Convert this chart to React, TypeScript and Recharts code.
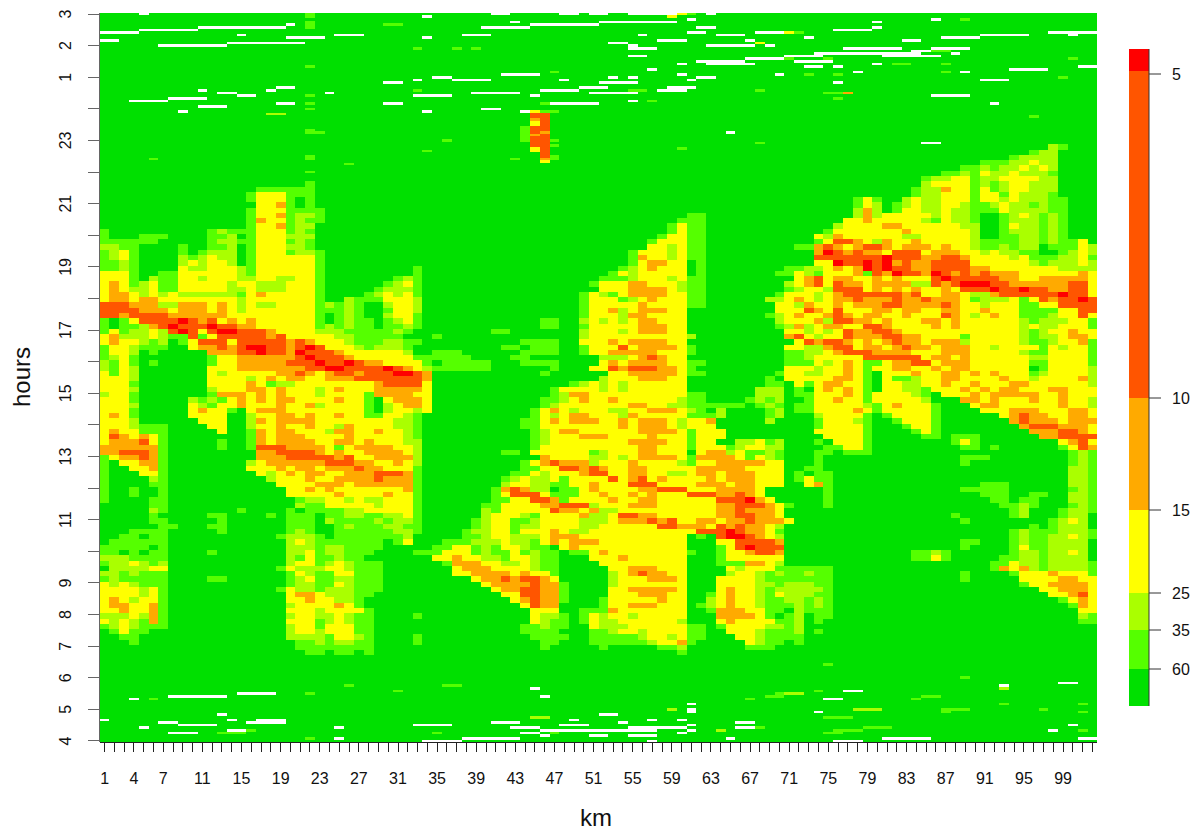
import { Bar, BarChart, XAxis, YAxis } from "recharts";

const FONT = "'Liberation Sans', Arial, sans-serif";

const LEVEL_COLORS: Record<string, string> = {
  g: "#00e000",
  m: "#55ff00",
  l: "#aaff00",
  y: "#ffff00",
  o: "#ffaa00",
  d: "#ff5500",
  r: "#ff0000",
  w: "#ffffff",
};

const KM_COUNT = 102;
const ROW_COUNT = 277;
const KM_LABELS = [1, 4, 7, 11, 15, 19, 23, 27, 31, 35, 39, 43, 47, 51, 55, 59, 63, 67, 71, 75, 79, 83, 87, 91, 95, 99];
// 5 minute rows from the top of the plot, hour ticks every 12 rows
const HOUR_TICKS = [3, 2, 1, 0, 23, 22, 21, 20, 19, 18, 17, 16, 15, 14, 13, 12, 11, 10, 9, 8, 7, 6, 5, 4];
const HOUR_SKIPPED = [0, 22, 20, 18, 16, 14, 12, 10];

// colour bar, bottom to top: thickness of each level and the label at its top
const LEGEND_LEVELS = ["g", "m", "l", "y", "o", "d", "r"];
const LEGEND_SIZES = [37, 39, 37, 83, 112, 327, 22];
const LEGEND_TICKS = [37, 76, 113, 196, 308, 632];
const LEGEND_LABELS = ["60", "35", "25", "15", "10", "5"];

// double height rows: [row / 2, "startKm:levels" ...]
const PLUME_ROWS: [number, string][] = [
  [25, "98:lm"],
  [26, "96:mll"],
  [27, "94:mllll"],
  [28, "91:mmmllyll"],
  [29, "89:mmlmllylyl"],
  [30, "87:mmlmyllylllm"],
  [31, "85:mllyymllyyyyll"],
  [32, "22:m 85:lyyyymlmlyylll"],
  [33, "17:mmmmmm 84:mlloyymymlyylll"],
  [34, "16:myyymmm 84:mllyyymyymylllm"],
  [35, "16:myyym.m 78:mym 83:lyllyyymyylylllmm"],
  [36, "17:yyom.m 78:myl 82:mlyllyylmmlyllmlmm"],
  [37, "16:myyymmmm 78:lol 82:myyllyllmmmyllllmm"],
  [38, "16:myyomllm 61:mm 78:lolyyyyylyllmggmlylmlm"],
  [39, "16:moyymlmm 60:mmm 77:yyoyyyyylmyllmggmlllmlm"],
  [40, "16:myyomll 59:mymm 76:lyyyyooyyyyyyllggmyllmlm"],
  [41, "1:m 12:mlmmmyyymlm 59:mymm 75:myyyyyyyoyyyyyylggmlllmlm"],
  [42, "1:m 5:mmm 12:mmlgmyyylll 58:myymm 74:yloyyyyyyllyyyyylggmmllmlm"],
  [43, "1:mmmmmm 12:mllmmyyymlm 57:myyymm 74:myddoyloyyoyyyyylmmmmllmlmmy"],
  [44, "1:llmm 9:m 12:mml.myyyllm 57:yylymm 72:mmodoyoddoyoooyoyylmmlmllgmmmyl"],
  [45, "1:mlym 9:m 11:mlll.myyymllm 55:myyylymm 74:ordodooydddyoooyylyllmmggmlyl"],
  [46, "1:mlym 9:lm 11:lyll.myyyyyym 55:moyylymm 74:dddddddrdddooddoyyyylymmmllym"],
  [47, "1:mmlm 9:lylyyl 16:myyyyyym 55:myooyygm 74:yyrddrdrodooddddyyyyyylmlllyl"],
  [48, "1:mmlm 9:yllyyylm 17:yyyyyym 33:m 54:mlyoyyygm 71:mmllyoyordrddooddddooyyyyyyyllll"],
  [49, "1:yyym 7:mm 9:yyyyyylm 17:yyyyyym 33:m 53:mylyyyyygm 70:mmylmyyyomdorddordododoooyyyyyyoy"],
  [50, "1:yyym 6:lmm 9:yylyyyll 17:yyllyym 31:mlm 52:mmmlyyylymm 72:yodyooyyoyoyyydrdddddooyyoooooy"],
  [51, "1:yoym 5:lymm 9:yyyyylyylllyyym 30:mlym 51:myyyooyyylmm 71:lyodydooyoooolldodrrrddooooooddy"],
  [52, "1:yoyllymm 9:yyyyyllylllyyym 29:mlllm 52:yyyooooylmm 71:mlyyldddyoyoyoyyoydddrddrddooddy"],
  [53, "1:yooylyly 9:llllllm 16:yoyyyyym 28:mlylym 50:mylmyooooyymm 70:myyylyoddddddodyyooylloddddddrddy"],
  [54, "1:yooyooyy 9:yyyyyylyyyyyyy 23:m 26:lmmmyyyl 50:myyymlyoyyymm 69:llyoylyoodooodoodoooymlllymydoddrd"],
  [55, "1:dddooo 7:ll 9:oooyoy 15:lyllyyyym 24:l 25:mlmgglyyl 50:myyyyyoyyyymm 70:yyloyyoyoooddoooodoyylyyymmyydddd"],
  [56, "1:ddddoooy 9:oooyoy 15:lyyyyyyym 24:mmlmggmyyl 50:myyolyoooyy 70:yyydoydyyyooyooyyooyyoyyymmmmyydd"],
  [57, "1:ddoddddo 9:oooooy 15:yyyyyyyym 24:gmlmgglyym 50:myyylooyyyy 69:mlyoyyodoyooyyoyyydoylyoyymmmlyydy"],
  [58, "1:mgmyddddrdodyoyoyyyyyym 24:gmlmmgmlym 46:mm 50:lylylyooyyy 70:lyyyolddooyoyyyooyoyyyyyylmlllyym"],
  [59, "1:mgmmlodrdddrddooyyyyyym 24:lmlmmgmmlm 46:mm 50:myyyyyoooyy 70:mlolyooyyddoyyyyoyoyyyyyylyllyyym"],
  [60, "1:mymllyldrdydrrdddoyyyylllmmmmmlm 41:mm 50:lyyylyoooyy 71:yylylydooddoyyyyyyyyyyyylmlyyoyy"],
  [61, "1:yolllylmmdmydddddodyyyyyllmmmmmgg 35:m 50:lyyyyyyyyyyl 71:odylyydoooddooyyyymyyyyylmllyooy"],
  [62, "1:yoyylmlgmydddydddddodoyyylmmmllmm 44:mmmm 50:yyyoyooooyy 72:ydoddoyoyodooyooolyyyyylmmlyyom"],
  [63, "1:myylmmmggyoododrrddodrdyyylmlllmg 42:mm 45:mmm 50:myyydyooooym 71:yylloddyooyodooyoooyylyyyymylyym"],
  [64, "1:myylgmgggggoooddrddordddoyyyyyylg 35:mmm 44:mmmm 50:myyoooooyyym 71:mmllyodddooooyyyoooyyyyylmmyyyym"],
  [65, "1:mlymgggggggmyyoooooodrdddoyyyyyymm 35:mmmm 43:mm 52:lllyodoyy 71:mmlyyyyyddddddyooyoyyyyyyllyyyym"],
  [66, "1:lmymgmgggggmyyooooodddrddrdooyyyym 36:mmm 39:mm 44:mmmm 52:yoyooooyy 61:mm 71:mmmylyoymmyooddyoooyyyyyymmyyyym"],
  [67, "1:lmylgggggggyyyoooooooddrrddddrdoyl 35:mmmmmm 47:m 51:yydodddooym 71:yyylyyoymyyooyyoyooyyyyyygmyyyyl"],
  [68, "1:ymylgggggggylyyyyyoodoyoddodddrrdo 46:m 53:yyoooooy 61:mm 70:myyllyyoymgyyyoyyooyoyoyyymlyyyyl"],
  [69, "1:yyylgggggggyyyylyoyooyyooodddddddo 52:l 53:yyyoooyy 69:m 71:yyyyyooymgymmlyyooyyyyoyylyyyyol"],
  [70, "1:yyymgggggggyyyyoymllyyyyyyyyoddddy 49:mlylylyyyyyy 69:mm 72:ymyooyymgyyllyyoyyoyyyooyyyyyyl"],
  [71, "1:yyylggggggglyyyooyoyyylyoyyyoooooy 47:myyyylylyyyyyy 68:lll 72:mgyoyoymgyyllmyyyoyoyooyyyooyyy"],
  [72, "1:lyymgggggggmoooyoyoyyylyyyymooooyy 47:mlooyyyyyyyyyymm 68:lll 72:mmyyyoymyyyylmgyyyoyoooooyyoyyy"],
  [73, "1:yyymggggglmlmyoyoyooyyyyoyymgyoooy 46:mmlyoyyoyyyyyylmm 67:mlml 72:gmyyoyymyyyyylgggooyoyyyoyyoyyl"],
  [74, "1:yyylgggggylmyyoyyyoyyolyyyymglyooy 46:mlyyyyyyyooyyllmmmmmmgmlm 72:mmyyyyylmyoyyymgggyooyyyyyyoyyl"],
  [75, "1:yyymgggggyoyymgyoooyyyyyyyymglyyly 45:myoylyyyllyyoooylmgl 69:ml 72:mmyyyyoymyyyyym 87:gggg 91:yyyoooyyyooy"],
  [76, "1:yoymgggggyyyygglyyooyoyyoyymmyylmg 45:mylyooyyyloyyyyymmml 69:ml 74:lyyyymgmyyyym 92:gyodooyyooy"],
  [77, "1:yyylggggggyyyggloyooooyyyyyyyyllm 44:mmyoyoooyyoyoooylyyo 69:l 74:myyylm 82:myyym 93:godoooyooo"],
  [78, "1:yyylmmmggggyygglyyoyyoyyloyyyyllm 44:mmyyyyyyyyoyoooylyyy 74:myyyym 83:myym 94:godddoooy"],
  [79, "1:yoyymmmgggggyggmoyooyyylooyyoyylm 45:mlyooyyyyyyooooymyyy 74:yyyyym 84:mym 95:goooddoy"],
  [80, "1:ydoyoym 16:moyoooyyyyoyyyyylm 45:mlyyyoooyyyyoyyymyyy 75:yyyym 85:mm 88:mmm 96:goodddd"],
  [81, "1:yooodym 13:m 16:moyooooyyooyoyyyll 45:mlyyyyyyyyooooyymyyggllyml 74:m 76:yyym 88:mym 98:gyody"],
  [82, "1:oooooom 13:m 16:mdddooooymyooooyyl 45:myyyyyyyyyyooyyymyyymlyyll 75:mmyym 89:mm 92:m 99:mydo"],
  [83, "1:oodddom 17:ooddddoyoyyooooyl 42:mm 45:yyyyyymlyyyooyyygyoolymmlm 74:mm 77:mmm 100:mlm"],
  [84, "1:myoodom 17:ooodddddodyyooool 46:oyyyyllylyooooymooooymylm 74:m 89:mmm 100:mlm"],
  [85, "1:mgyyoom 16:lyoooooodddooyyoyl 44:myodooolyyyoyyyylmyyoooooyy 74:m 89:m 100:mlm"],
  [86, "1:mggyyom 16:yyyoyooyooodooyyym 44:mmyyddodoyyooyyyyyoooooyyyy 73:mm 100:llm"],
  [87, "1:mgggyym 17:ylyoyooyyooodddom 43:mmylyyyoddyyooyyllyooyoooy 69:yy 72:m 74:mm 100:llm"],
  [88, "1:m 6:lm 18:lyyyoyyoooodooom 42:mlyllymyyyydyodyoyyyyoyoooy 69:yy 72:mymm 100:llm"],
  [89, "1:m 6:mm 18:gyyyyoooyoooooom 42:lyyllmmyyoyyydddyyyyoooyooy 69:yy 73:yom 91:mmm 100:llm"],
  [90, "1:m 4:m 7:m 20:yyoyoyyyyyyyom 41:modollgmmyoyyyyoodddyyyooooy 75:m 89:mmmmm 100:mlm"],
  [91, "1:m 4:m 7:m 20:yyyyyoyyyyoyym 41:mydddymmmyyoyyoyoyyydddoodoy 75:m 91:mmm 96:mm 100:llm"],
  [92, "1:m 6:mm 21:mllyylyllyyym 41:mmyyddomyyyyoyyooyyyyyydddroy 75:m 92:mm 95:mm 100:llm"],
  [93, "6:mm 21:lmmyyyyylyyym 40:mmyyyyoodddlyyyoooyyyyyyoodddoy 71:m 75:m 93:mmlm 100:mlm"],
  [94, "6:lm 15:m 20:m 22:mmmmllyyyyym 40:lmyyyyydooyollyyyyyyyyyyoodoooy 94:ml 99:mllm"],
  [95, "6:m 12:mm 18:m 20:mmmgmmllmmllym 40:lyyylmyyyyollyddooyyyyyyooddooy 88:m 94:ml 99:mll"],
  [96, "6:mm 13:m 20:mmmglmmmmlmllm 39:mlyymmlyyyylllyooododyyooyoodoooy 89:m 98:mlylg"],
  [97, "7:mm 12:mm 20:mmmggmlmmmllmm 39:mlyymllyyyyllyyyyyyddoooydodooy 70:l 96:m 98:mlllg"],
  [98, "4:mmmm 13:m 20:mlmggmmmmmmllm 38:mllyymyyyoyllyyyyyyyyyyydddrdooy 70:m 94:mlmmmlllm"],
  [99, "3:mm 6:mm 19:mlllmgmmmmmmmlg 38:mmlyylllyoooyyyyyyyyyyygmgdrrdoy 70:l 94:mlmmllylm"],
  [100, "2:mmmmmm 20:lylmmmmmmmgmy 36:mmmlllyllmyoyoooyyyyyyyyygggyyddddo 89:mm 94:mlmmllllg"],
  [101, "1:mmmmmgm 20:lllmllmmmm 35:mmyymlmyylmmgyoyyyyyyyyyyygggmydrddd 89:m 94:mymmllllg"],
  [102, "1:mm 4:m 6:mm 12:m 20:llymllmmm 33:mm 35:myyymlmmymlmmgmmyoyyyyyyyymggmyyoddo 84:mmlm 94:mllmllylg"],
  [103, "1:lllmmmm 20:lmymmlmm 35:yyoyyllmyylmmgggyyyoyyyyyygggmyyyyy 70:y 84:mmym 93:mmllmllllg"],
  [104, "1:mllylml 20:lyymlylmmm 36:moooyyllylmmggggyyyyyyyyygggmmmooy 70:l 92:mmyllmllllm"],
  [105, "2:llllyy 19:mylllyylmmm 37:yoooyyyylmm 53:yyoooyyy 65:ylyyym 71:mmmmm 92:moyolmllllm"],
  [106, "1:llmlmmm 20:mylmmyymmm 37:yyooooyoyym 53:lyodooyy 65:lyylml 71:mmlmm 89:m 94:myyyoyyym"],
  [107, "1:mlmmmmm 12:mm 20:mlymmllmmm 39:yoododdoy 53:lyyyoooy 64:yyyylmm 71:mmmmm 89:m 95:yyyyooyy"],
  [108, "1:ylylmmm 20:mllmmylmmm 40:yoooodoom 53:lyyyyyyy 64:yyyylm 69:lmlllmm 95:myyooooy"],
  [109, "1:yyyylym 19:myllmlllmmm 41:yooddoom 53:yyoooooy 64:yoyylm 70:lllllm 97:yyoooy"],
  [110, "1:yyyylym 20:yooylllmm 42:yyddoom 53:yyyoooyy 63:myoyylm 70:ylllmm 98:yyody"],
  [111, "1:yoylyym 20:yyoyyllm 43:yodoom 52:myyyyyoyy 63:lyoyylm 70:mllmlm 99:myoy"],
  [112, "1:yooyyom 20:lyyyyoym 44:ydoo 52:myyoooyyy 62:mlyoyylm 70:mmlmlm 100:moy"],
  [113, "1:yyoyyom 20:yyylyyyym 45:yyy 50:mmmoyyyyyyy 63:moooyym 70:mglmmm 101:yy"],
  [114, "1:lllylom 20:lyyllylmm 33:m 45:yllm 50:mylyylyyyyy 64:ooooym 71:ml 74:mm 101:lm"],
  [115, "1:ylylmom 20:yyymlylmm 45:ylmm 50:myllyyyyyyl 64:yoyyyym 71:ml 74:m 101:mm"],
  [116, "1:mlylmmm 20:lyymyyymm 44:mmlmm 51:ylllyyyyyymm 64:myyyyll 71:ml"],
  [117, "2:mymm 20:lyylyyymm 44:mmmm 51:mmlyylyyyymm 65:yyylmm 71:ml 74:m"],
  [118, "3:mm 20:llllmyylm 33:m 45:mmmm 51:mmmmmlyylymm 66:yylmm 71:mm"],
  [119, "4:m 21:mmlmllmm 33:m 46:mm 51:mmmmmmlyyom 67:ylmm 72:m"],
  [120, "21:mmmmmmmm 46:m 52:m 58:mml 67:mmm"],
  [121, "22:mm 25:mm 28:m 60:m"],
];

// single rows: gaps in the record and thin streaks near the top and bottom
const THIN_ROWS: [number, string][] = [
  [0, "5w 22m 41-42w 48-49w 51-52w 55-59w 60y 61m 63w"],
  [1, "34w 22m 59y"],
  [2, "61w 86w 89m"],
  [3, "22m 43w 52-59w 80w"],
  [4, "20w 22m 30-31m 45-51w"],
  [5, "11-19w 22m 40-44w 62-63w 80w"],
  [6, "5-10w 76-79w"],
  [7, "1-4w 61-62w 68-70w 71y 72m 98-102w"],
  [8, "15w 25-27w 38-40w 56w 64-66w 91-95w 100w"],
  [9, "34w 20-23w 73w 87-90w"],
  [10, "1-2w 58-60w 67w 83-84w"],
  [11, "14-21w 53-54w 68y"],
  [12, "7-13w 55w 63-67w 69w"],
  [13, "33m 37m 39m 86-89w 55-57w 77-82w"],
  [14, "84-85w 86-87m"],
  [15, "74-84w 88w"],
  [16, "81-86w 55-56w 71-74w"],
  [17, "67-70w 71m 75m 100m"],
  [18, "62-66w 72-75w"],
  [19, "63-67w 60w 80w 82-83m 87m"],
  [20, "22m 73-74w 76w 101-102w"],
  [21, "57w 94-97w"],
  [22, "78w 89w 87m 47m"],
  [23, "42-45w 60w 70w 73m 76m"],
  [24, "35-36w 53w 55w 62-63w 99m"],
  [25, "33w 37-40w 48w 61w 91-93w"],
  [26, "30-31w 52-55w 76w"],
  [28, "19-20w 50-52w 59-61w"],
  [29, "11w 18w 33m 46-49w 55-56m 58-60w 68m"],
  [30, "13-14w 24w 39-43w 51-55w 75-76m 77o"],
  [31, "15-16w 22m 33-34w 35-36w 45w 86-89w"],
  [32, "8-11w 76m"],
  [33, "4-7w 55w 57m"],
  [34, "19-20w 30-31w 22m 46m 47-51w 92w"],
  [35, "11-13w"],
  [36, "22m 40-41w"],
  [37, "9w 34w 44w 45y 46-47m"],
  [38, "18-19l 45-46d"],
  [39, "45-46d 96m"],
  [40, "45o 46d"],
  [41, "45y 46d"],
  [42, "45y 46d"],
  [43, "44m 45-46d"],
  [44, "22m 44m 45-46d"],
  [45, "22-23m 44m 45d 46o 65w"],
  [46, "44m 45o 46d"],
  [47, "44m 45-46d"],
  [48, "44m 45-46d 47m 36m"],
  [49, "45-46d 85-86w 68m"],
  [50, "45-46d 47m"],
  [51, "45y 46d 60m"],
  [52, "34m 45y 46d"],
  [53, "46d"],
  [54, "22m 46d 47m"],
  [55, "6m 22m 46o 47m 43m"],
  [56, "46y"],
  [57, "26m"],
  [60, "22m"],
  [247, "75m"],
  [252, "89m"],
  [254, "99-100w"],
  [255, "26m 36-37m 93w"],
  [256, "93l 45w"],
  [257, "31m 74m 77-78w"],
  [258, "15-18w 22m 71-72l 70m"],
  [259, "8-13w 46w 85-86m 69-70m"],
  [260, "4w 6m 67m 75-76w 84m"],
  [262, "61w 93m 101m"],
  [264, "78-80l 87-89m 97m 61w 59l"],
  [265, "74w 87m 101m 61w"],
  [266, "13w 52-53w"],
  [267, "45-46l 75-77m"],
  [268, "1w 14w 17-19w 49w 57w 60w"],
  [269, "17-19w 7-8w 16w 41-43w 54w 66-67w"],
  [270, "9-12w 33-36w 48-50w 61w 100w"],
  [271, "5w 25w 43-45w 55-60w 66-67w 68m 79-81m"],
  [272, "14-15w 16m 46-57w 61w 64l 76-78m 98w 101m"],
  [273, "8-10w 13-15m 35m 44-45w 60w 47m 75-76m"],
  [274, "46w 51-52w 55-57w"],
  [275, "22m 25w 38-43w 65w 81-85w 101-102w"],
  [276, "34-37w 57w 76-78w"],
];

const PLOT_TOP = 12.7;
const PLOT_HEIGHT = 729.6;
const ROW_HEIGHT = PLOT_HEIGHT / ROW_COUNT;

function paint(cells: string[], spec: string) {
  for (const token of spec.split(" ")) {
    if (token.includes(":")) {
      const [start, levels] = token.split(":");
      [...levels].forEach((level, i) => {
        const km = +start + i;
        if (level !== "." && km <= KM_COUNT) cells[km - 1] = level;
      });
    } else {
      const match = token.match(/^(\d+)(?:-(\d+))?([a-z])$/);
      if (!match) continue;
      const from = +match[1];
      const to = match[2] ? +match[2] : from;
      for (let km = from; km <= to; km++) cells[km - 1] = match[3];
    }
  }
}

function buildGrid() {
  const grid = Array.from({ length: ROW_COUNT }, () => Array(KM_COUNT).fill("g") as string[]);
  for (const [half, spec] of PLUME_ROWS) {
    paint(grid[half * 2], spec);
    paint(grid[half * 2 + 1], spec);
  }
  for (const [row, spec] of THIN_ROWS) paint(grid[row], spec);
  return grid;
}

// each row becomes a stack of runs, so the km axis places every run
function buildRows() {
  let runCount = 0;
  const rows = buildGrid().map((cells, row) => {
    const entry: Record<string, any> = { row, levels: [] as string[] };
    let run = -1;
    cells.forEach((level, i) => {
      if (i === 0 || level !== cells[i - 1]) {
        run++;
        entry.levels.push(level);
        entry[`run${run}`] = 0;
      }
      entry[`run${run}`] += 1;
    });
    runCount = Math.max(runCount, run + 1);
    return entry;
  });
  return { rows, runCount };
}

const { rows, runCount } = buildRows();
const runIndexes = Array.from({ length: runCount }, (_, i) => i);
const kmTicks = Array.from({ length: KM_COUNT }, (_, i) => i + 0.5);
const rowTicks = HOUR_TICKS.map((_, i) => i * 12);
const rowTickLabels = HOUR_TICKS.map((hour) => (HOUR_SKIPPED.includes(hour) ? "" : String(hour)));

const legendRow = [
  Object.fromEntries([["name", "levels"], ...LEGEND_LEVELS.map((level, i) => [level, LEGEND_SIZES[i]])]),
];

function RunCell(props: any, run: number) {
  const { x, y, width, payload } = props;
  if (!width) return <g />;
  return <rect x={x} y={y} width={width} height={ROW_HEIGHT} fill={LEVEL_COLORS[payload.levels[run]]} />;
}

function HourTick({ x, y, payload }: any) {
  return (
    <text
      x={x}
      y={y}
      transform={`rotate(-90 ${x} ${y})`}
      textAnchor="middle"
      fontSize={16}
      fontFamily={FONT}
      fill="#111"
    >
      {rowTickLabels[payload.value / 12]}
    </text>
  );
}

function HeatChart() {
  return (
    <BarChart
      width={1194}
      height={832}
      data={rows}
      layout="vertical"
      barCategoryGap={0}
      barGap={0}
      margin={{ top: PLOT_TOP, right: 96.7, bottom: 832 - PLOT_TOP - PLOT_HEIGHT - 60, left: 30 }}
      style={{ shapeRendering: "crispEdges" }}
    >
      <XAxis
        type="number"
        domain={[0, KM_COUNT]}
        ticks={kmTicks}
        interval={0}
        height={60}
        stroke="#222"
        tickSize={10}
        tickMargin={20}
        tick={{ fontSize: 16, fontFamily: FONT, fill: "#111" }}
        tickFormatter={(v: number) => (KM_LABELS.includes(v + 0.5) ? String(v + 0.5) : "")}
        allowDecimals
      />
      <XAxis xAxisId="box" orientation="top" type="number" domain={[0, KM_COUNT]} tick={false} height={0} stroke="#999" />
      <YAxis
        type="category"
        dataKey="row"
        width={69.7}
        ticks={rowTicks}
        interval={0}
        stroke="#666"
        tickSize={12}
        tickMargin={17}
        tick={<HourTick />}
      />
      <YAxis yAxisId="box" type="category" dataKey="row" orientation="right" tick={false} width={0} stroke="#bbb" />
      {runIndexes.map((run) => (
        <Bar
          key={run}
          dataKey={`run${run}`}
          stackId="rows"
          barSize={3}
          isAnimationActive={false}
          shape={(props: any) => RunCell(props, run)}
        />
      ))}
    </BarChart>
  );
}

function LegendBar() {
  return (
    <BarChart
      width={85}
      height={832}
      data={legendRow}
      barCategoryGap={0}
      margin={{ top: 49, right: 0, bottom: 126, left: 20 }}
      style={{ position: "absolute", left: 1109, top: 0 }}
    >
      <XAxis dataKey="name" tick={false} tickLine={false} height={0} stroke="#333" />
      <XAxis xAxisId="box" dataKey="name" orientation="top" tick={false} tickLine={false} height={0} stroke="#333" />
      <YAxis yAxisId="box" domain={[0, 657]} tick={false} tickLine={false} width={0} stroke="#333" />
      <YAxis
        orientation="right"
        type="number"
        domain={[0, 657]}
        ticks={LEGEND_TICKS}
        interval={0}
        width={45}
        stroke="#333"
        tickSize={12}
        tickMargin={11}
        tick={{ fontSize: 16, fontFamily: FONT, fill: "#111" }}
        tickFormatter={(v: number) => LEGEND_LABELS[LEGEND_TICKS.indexOf(v)]}
      />
      {LEGEND_LEVELS.map((level) => (
        <Bar key={level} dataKey={level} stackId="legend" fill={LEVEL_COLORS[level]} isAnimationActive={false} />
      ))}
    </BarChart>
  );
}

const axisTitle: React.CSSProperties = {
  position: "absolute",
  fontFamily: FONT,
  fontSize: 24,
  color: "#111",
  lineHeight: 1,
};

export default function App() {
  return (
    <div style={{ position: "absolute", left: 0, top: 0, width: 1194, height: 832, background: "#fff", overflow: "hidden" }}>
      <HeatChart />
      <LegendBar />
      <div style={{ ...axisTitle, left: 580, top: 806 }}>km</div>
      <div style={{ ...axisTitle, left: 22, top: 377, transform: "translate(-50%, -50%) rotate(-90deg)" }}>hours</div>
    </div>
  );
}
